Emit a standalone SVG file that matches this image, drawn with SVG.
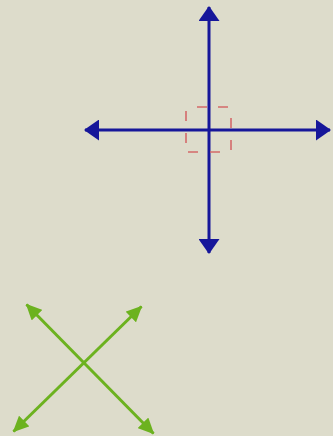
<svg xmlns="http://www.w3.org/2000/svg" width="333" height="436" viewBox="0 0 333 436">
  <defs>
    <style>
      .blue { stroke: #16169a; stroke-width: 3; fill: none; }
      .green { stroke: #6cb21f; stroke-width: 3; fill: none; }
      .box { stroke: #d46a6a; stroke-width: 1.6; fill: none; }
    </style>
    <marker id="arrB" markerUnits="userSpaceOnUse" viewBox="0 0 15 21" refX="14" refY="10.5" markerWidth="15" markerHeight="21" orient="auto-start-reverse">
      <path d="M0,0 L15,10.5 L0,21 Z" fill="#16169a"/>
    </marker>
    <marker id="arrG" markerUnits="userSpaceOnUse" viewBox="0 0 16 15" refX="15" refY="7.5" markerWidth="16" markerHeight="15" orient="auto-start-reverse">
      <path d="M0,0 L16,7.5 L0,15 Z" fill="#6cb21f"/>
    </marker>
  </defs>
  <rect width="333" height="436" fill="#dddccb"/>
  <g id="crosshair">
    <line class="blue" x1="209" y1="7" x2="209" y2="253" marker-start="url(#arrB)" marker-end="url(#arrB)"/>
    <line class="blue" x1="85" y1="130" x2="330" y2="130" marker-start="url(#arrB)" marker-end="url(#arrB)"/>
  </g>
  <g id="selection">
    <path class="box" d="M197,107 H207 M218,107 H228 M231,118 V128 M231,140 V150 M220,152 H210 M198,152 H188 M186,143 V133 M186,121 V111"/>
  </g>
  <g id="diagonal">
    <line class="green" x1="26.5" y1="304.5" x2="153.5" y2="433.5" marker-start="url(#arrG)" marker-end="url(#arrG)"/>
    <line class="green" x1="13.5" y1="431.5" x2="141.5" y2="306.5" marker-start="url(#arrG)" marker-end="url(#arrG)"/>
  </g>
</svg>
